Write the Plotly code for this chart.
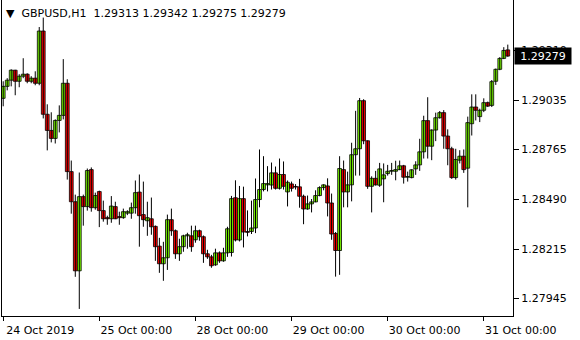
import plotly.graph_objects as go

symbol = "GBPUSD,H1"

opens = [1.29046, 1.29112, 1.29146, 1.29201, 1.29140, 1.29168, 1.29179, 1.29140, 1.29157, 1.29129,
         1.29417, 1.28958, 1.28869, 1.28825, 1.28924, 1.28952, 1.29129, 1.28642, 1.28476, 1.28095,
         1.28504, 1.28449, 1.28653, 1.28443, 1.28532, 1.28427, 1.28388, 1.28382, 1.28449, 1.28394,
         1.28388, 1.28413, 1.28413, 1.28443, 1.28529, 1.28405, 1.28371, 1.28382, 1.28340, 1.28231,
         1.28134, 1.28167, 1.28377, 1.28316, 1.28189, 1.28228, 1.28288, 1.28288, 1.28266, 1.28316,
         1.28283, 1.28189, 1.28172, 1.28128, 1.28194, 1.28150, 1.28194, 1.28196, 1.28498, 1.28265,
         1.28493, 1.28312, 1.28312, 1.28331, 1.28488, 1.28543, 1.28569, 1.28568, 1.28635, 1.28550,
         1.28626, 1.28530, 1.28574, 1.28558, 1.28558, 1.28506, 1.28436, 1.28464, 1.28475, 1.28510,
         1.28554, 1.28563, 1.28469, 1.28301, 1.28207, 1.28653, 1.28530, 1.28569, 1.28735, 1.28768,
         1.29033, 1.28812, 1.28561, 1.28605, 1.28567, 1.28602, 1.28631, 1.28644, 1.28644, 1.28653,
         1.28674, 1.28611, 1.28609, 1.28657, 1.28679, 1.28751, 1.28923, 1.28782, 1.28871, 1.28939,
         1.28967, 1.28838, 1.28768, 1.28609, 1.28705, 1.28727, 1.28661, 1.28906, 1.28998, 1.28945,
         1.28980, 1.29022, 1.29007, 1.29140, 1.29206, 1.29266, 1.29313]

highs = [1.29140, 1.29157, 1.29206, 1.29203, 1.29179, 1.29267, 1.29184, 1.29168, 1.29195, 1.29439,
         1.29491, 1.29013, 1.28969, 1.28930, 1.29007, 1.29262, 1.29151, 1.28703, 1.28515, 1.28637,
         1.28515, 1.28659, 1.28665, 1.28526, 1.28537, 1.28482, 1.28399, 1.28507, 1.28476, 1.28421,
         1.28438, 1.28429, 1.28471, 1.28593, 1.28626, 1.28587, 1.28476, 1.28499, 1.28345, 1.28277,
         1.28255, 1.28405, 1.28438, 1.28323, 1.28272, 1.28294, 1.28305, 1.28344, 1.28344, 1.28322,
         1.28290, 1.28211, 1.28183, 1.28217, 1.28202, 1.28222, 1.28338, 1.28508, 1.28594, 1.28563,
         1.28559, 1.28428, 1.28482, 1.28604, 1.28764, 1.28727, 1.28672, 1.28692, 1.28670, 1.28714,
         1.28698, 1.28593, 1.28587, 1.28573, 1.28602, 1.28515, 1.28510, 1.28491, 1.28539, 1.28561,
         1.28572, 1.28605, 1.28521, 1.28309, 1.28727, 1.28703, 1.28642, 1.28801, 1.28977, 1.29048,
         1.29041, 1.28814, 1.28616, 1.28646, 1.28690, 1.28687, 1.28679, 1.28690, 1.28702, 1.28703,
         1.28679, 1.28642, 1.28655, 1.28699, 1.28823, 1.28950, 1.29052, 1.28875, 1.28967, 1.28976,
         1.28981, 1.28875, 1.28779, 1.28768, 1.28760, 1.28764, 1.28945, 1.29068, 1.29068, 1.28989,
         1.29046, 1.29028, 1.29147, 1.29210, 1.29273, 1.29328, 1.29342]

lows = [1.29002, 1.29090, 1.29112, 1.29063, 1.29107, 1.29157, 1.29129, 1.29129, 1.29118, 1.29118,
        1.28935, 1.28759, 1.28803, 1.28797, 1.28858, 1.28930, 1.28598, 1.28410, 1.28062, 1.27885,
        1.28344, 1.28427, 1.28421, 1.28432, 1.28336, 1.28366, 1.28349, 1.28360, 1.28380, 1.28349,
        1.28382, 1.28402, 1.28382, 1.28410, 1.28228, 1.28338, 1.28288, 1.28294, 1.28150, 1.28084,
        1.28040, 1.28100, 1.28288, 1.28161, 1.28150, 1.28200, 1.28217, 1.28200, 1.28250, 1.28261,
        1.28139, 1.28161, 1.28112, 1.28123, 1.28139, 1.28145, 1.28172, 1.28174, 1.28257, 1.28257,
        1.28224, 1.28285, 1.28298, 1.28303, 1.28445, 1.28533, 1.28533, 1.28543, 1.28543, 1.28543,
        1.28543, 1.28450, 1.28532, 1.28543, 1.28443, 1.28352, 1.28432, 1.28417, 1.28473, 1.28506,
        1.28539, 1.28395, 1.28266, 1.28063, 1.28073, 1.28445, 1.28445, 1.28478, 1.28620, 1.28620,
        1.28793, 1.28547, 1.28417, 1.28565, 1.28558, 1.28473, 1.28620, 1.28624, 1.28594, 1.28650,
        1.28576, 1.28587, 1.28605, 1.28624, 1.28646, 1.28714, 1.28714, 1.28705, 1.28810, 1.28934,
        1.28768, 1.28677, 1.28602, 1.28598, 1.28687, 1.28635, 1.28445, 1.28841, 1.28924, 1.28915,
        1.28970, 1.28998, 1.28998, 1.29120, 1.29201, 1.29262, 1.29275]

closes = [1.29112, 1.29146, 1.29201, 1.29140, 1.29168, 1.29179, 1.29140, 1.29157, 1.29129, 1.29417,
          1.28958, 1.28869, 1.28825, 1.28924, 1.28952, 1.29129, 1.28642, 1.28476, 1.28095, 1.28504,
          1.28449, 1.28648, 1.28443, 1.28510, 1.28427, 1.28382, 1.28382, 1.28452, 1.28382, 1.28388,
          1.28421, 1.28421, 1.28443, 1.28526, 1.28399, 1.28377, 1.28388, 1.28338, 1.28228, 1.28134,
          1.28167, 1.28377, 1.28316, 1.28189, 1.28228, 1.28288, 1.28294, 1.28228, 1.28316, 1.28283,
          1.28189, 1.28172, 1.28123, 1.28194, 1.28150, 1.28194, 1.28327, 1.28493, 1.28265, 1.28493,
          1.28309, 1.28307, 1.28331, 1.28488, 1.28543, 1.28576, 1.28576, 1.28635, 1.28550, 1.28626,
          1.28561, 1.28583, 1.28550, 1.28557, 1.28506, 1.28436, 1.28464, 1.28475, 1.28510, 1.28554,
          1.28569, 1.28469, 1.28298, 1.28207, 1.28659, 1.28530, 1.28569, 1.28735, 1.28768, 1.29033,
          1.28812, 1.28561, 1.28605, 1.28569, 1.28657, 1.28624, 1.28644, 1.28648, 1.28653, 1.28674,
          1.28611, 1.28615, 1.28652, 1.28679, 1.28751, 1.28923, 1.28782, 1.28871, 1.28939, 1.28967,
          1.28838, 1.28768, 1.28609, 1.28709, 1.28727, 1.28653, 1.28912, 1.28998, 1.28980, 1.28980,
          1.29022, 1.29003, 1.29138, 1.29206, 1.29266, 1.29310, 1.29279]

date_tick_bars = [0, 24, 48, 72, 96, 120]
date_tick_labels = ["24 Oct 2019", "25 Oct 00:00", "28 Oct 00:00",
                    "29 Oct 00:00", "30 Oct 00:00", "31 Oct 00:00"]
price_ticks = [1.27945, 1.28215, 1.28490, 1.28765, 1.29035, 1.29310]

bars = list(range(len(opens)))
FONT = "DejaVu Sans"
BULL = "#7CFC00"
BEAR = "#FF0000"

# wicks: one vertical segment per bar from low to high
wick_x, wick_y = [], []
for i, lo, hi in zip(bars, lows, highs):
    wick_x += [i, i, None]
    wick_y += [lo, hi, None]

MIN_BODY = 0.00003  # keep doji bodies visible as a thin line
body_base = [min(o, c) for o, c in zip(opens, closes)]
body_len = [max(abs(c - o), MIN_BODY) for o, c in zip(opens, closes)]
body_col = [BULL if c >= o else BEAR for o, c in zip(opens, closes)]

fig = go.Figure()
fig.add_trace(go.Scatter(
    x=wick_x, y=wick_y, mode="lines", line=dict(color="black", width=1),
    hoverinfo="skip", showlegend=False,
))
fig.add_trace(go.Bar(
    x=bars, y=body_len, base=body_base, width=0.95,
    marker=dict(color=body_col, line=dict(color="black", width=0.8)),
    hoverinfo="skip", showlegend=False,
))

fig.update_layout(
    width=580, height=340,
    margin=dict(l=2, r=67, t=0, b=24, pad=0),
    paper_bgcolor="white", plot_bgcolor="white",
    font=dict(family=FONT, size=11, color="black"),
    showlegend=False, hovermode=False, barmode="overlay",
)

fig.update_xaxes(
    range=[-0.3, 127.3], tickmode="array", tickvals=date_tick_bars, ticktext=date_tick_labels,
    ticks="outside", ticklen=4, tickcolor="black", tickwidth=1,
    showline=True, linecolor="black", linewidth=1, mirror=True,
    showgrid=False, zeroline=False,
    ticklabelshift=37,
)

fig.update_yaxes(
    side="right", range=[1.27846, 1.29588], tickmode="array", tickvals=price_ticks,
    ticktext=[f"{v:.5f}" for v in price_ticks],
    ticks="outside", ticklen=5, tickcolor="black", tickwidth=1,
    showline=True, linecolor="black", linewidth=1, mirror=True,
    showgrid=False, zeroline=False,
)

title_txt = ("\u25BC\u00a0\u00a0" + symbol + "\u00a0\u00a0"
             + " ".join(f"{v:.5f}" for v in (opens[-1], highs[-1], lows[-1], closes[-1])))
fig.add_annotation(
    xref="paper", yref="paper", x=0, y=1, xanchor="left", yanchor="top",
    xshift=2, yshift=-5, text=title_txt, showarrow=False,
    font=dict(family=FONT, size=11, color="black"),
)

fig.add_annotation(
    xref="paper", yref="y", x=1, y=closes[-1], xanchor="left", yanchor="middle",
    xshift=1, text=f"{closes[-1]:.5f}", showarrow=False,
    bgcolor="black", font=dict(family=FONT, size=11, color="white"),
    width=54, height=14, borderpad=1, align="center",
)

fig.write_html("out.html")
